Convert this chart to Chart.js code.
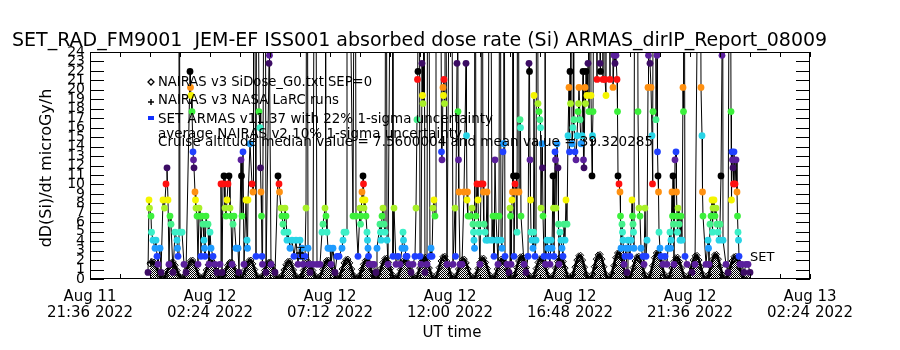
<!DOCTYPE html>
<html><head><meta charset="utf-8">
<script src="https://cdn.jsdelivr.net/npm/chart.js@4.4.1/dist/chart.umd.min.js"></script>
<style>html,body{margin:0;padding:0;background:#fff;}canvas{display:block;}</style>
</head><body>
<canvas id="c" width="900" height="350"></canvas>
<script>
// ---------------- DATA ----------------
// x axis: hours since Aug 11 2022 00:00 UT
const xMajorHours = [21.6, 26.4, 31.2, 36.0, 40.8, 45.6, 50.4];
const xTickLabels = [['Aug 11','21:36 2022'],['Aug 12','02:24 2022'],['Aug 12','07:12 2022'],['Aug 12','12:00 2022'],['Aug 12','16:48 2022'],['Aug 12','21:36 2022'],['Aug 13','02:24 2022']];
const xMinorHours = [21.6,22.8,24.0,25.2,26.4,27.6,28.8,30.0,31.2,32.4,33.6,34.8,36.0,37.2,38.4,39.6,40.8,42.0,43.2,44.4,45.6,46.8,48.0,49.2,50.4];
const yTickValues = [0,1,2,3,4,5,6,7,8,9,10,11,12,13,14,15,16,17,18,19,20,21,22,23,24];

// SET ARMAS measured dose rate: [hour, microGy/h]
const setSamples = [
[23.92,0.7],[23.96,8.35],[23.98,7.5],[24.04,6.65],[24.06,4.95],[24.12,4.1],[24.2,3.25],[24.24,4.1],[24.28,2.4],[24.32,1.55],[24.4,3.25],[24.44,0.7],
[24.52,8.35],[24.58,7.5],[24.64,10.05],[24.68,11.75],[24.72,8.35],[24.76,1.55],[24.8,6.65],[24.84,5.8],[24.92,0.7],[25.0,4.95],[25.08,4.1],[25.1,3.25],[25.12,2.4],[25.16,60],[25.2,4.95],[25.28,4.95],[25.36,1.55],[25.44,0.7],
[25.6,21.95],[25.62,20.25],[25.64,19.4],[25.68,17.7],[25.72,13.45],[25.74,12.6],[25.76,11.75],[25.8,9.2],[25.82,8.35],[25.84,7.5],[25.88,6.65],[25.92,1.55],[25.96,7.5],[26.0,6.65],[26.04,2.4],[26.08,6.65],[26.12,5.8],[26.16,4.1],[26.18,3.25],[26.2,2.4],[26.24,6.65],[26.28,5.8],[26.32,5.8],[26.36,1.55],[26.4,4.95],[26.44,3.25],[26.52,2.4],[26.6,1.55],[26.68,0.7],
[26.8,1.55],[26.84,10.05],[26.88,0.7],[26.92,10.05],[26.96,10.9],[27.0,7.5],[27.04,6.65],[27.08,8.35],[27.12,10.05],[27.16,10.9],[27.2,7.5],[27.24,6.65],[27.28,1.55],[27.32,5.8],[27.36,6.65],[27.44,3.25],[27.52,3.25],[27.56,0.7],
[27.64,12.6],[27.66,10.9],[27.68,6.65],[27.72,13.45],[27.76,1.55],[27.84,8.35],[27.88,4.1],[27.9,3.25],[27.92,8.35],[28.0,14.3],[28.08,10.05],[28.12,9.2],[28.14,60],[28.24,2.4],[28.28,60],[28.36,17.7],[28.4,16.0],[28.42,11.75],[28.44,9.2],[28.46,6.65],[28.48,2.4],[28.5,1.55],[28.6,60],[28.64,0.7],
[28.76,22.8],[28.78,23.65],[28.84,1.55],[29.0,0.7],[29.12,10.9],[29.16,10.05],[29.18,9.2],[29.24,7.5],[29.28,6.65],[29.32,5.8],[29.36,4.95],[29.4,7.5],[29.44,6.65],[29.48,4.1],[29.52,4.95],[29.6,3.25],[29.68,4.1],[29.76,2.4],[29.84,4.1],[29.92,1.55],
[30.0,4.1],[30.04,2.4],[30.08,3.25],[30.12,1.55],[30.2,2.4],[30.24,7.5],[30.28,60],[30.32,3.25],[30.36,1.55],[30.4,0.7],
[30.52,1.55],[30.6,60],[30.68,1.55],[30.8,1.55],[30.88,4.95],[30.92,5.8],[31.0,7.5],[31.02,60],[31.04,6.65],[31.08,4.95],[31.12,3.25],[31.2,3.25],[31.24,1.55],[31.32,3.25],[31.4,0.7],[31.48,2.4],[31.56,2.4],
[31.68,3.25],[31.72,4.1],[31.76,4.95],[31.84,4.95],[31.88,60],
[32.12,6.65],[32.2,60],[32.24,6.65],[32.32,2.4],[32.4,7.5],[32.42,5.8],[32.44,6.65],[32.48,9.2],[32.5,8.35],[32.52,10.9],[32.54,10.05],[32.56,7.5],[32.6,8.35],[32.64,6.65],[32.68,4.95],[32.7,4.1],[32.72,3.25],[32.74,2.4],[32.76,1.55],
[32.88,1.55],[32.96,1.55],[33.04,0.7],[33.08,3.25],[33.2,5.8],[33.22,4.95],[33.24,4.1],[33.28,6.65],[33.32,7.5],[33.36,5.8],[33.4,4.95],[33.44,60],[33.48,4.1],[33.52,1.55],
[33.68,60],[33.72,2.4],[33.76,7.5],[33.84,1.55],[33.92,2.4],[34.0,1.55],[34.08,3.25],[34.12,4.95],[34.14,4.1],[34.2,3.25],[34.24,2.4],[34.28,2.4],[34.36,1.55],[34.44,0.7],[34.52,1.55],
[34.6,2.4],[34.64,7.5],[34.68,16.85],[34.7,21.1],[34.72,21.95],[34.76,60],[34.8,2.4],[34.84,1.55],[34.88,22.8],[34.9,19.4],[34.92,18.55],[34.94,60],[35.0,0.7],[35.08,1.55],[35.12,60],[35.2,2.4],[35.24,3.25],[35.28,2.4],[35.32,7.5],[35.36,8.35],[35.4,6.65],[35.44,60],[35.52,60],[35.6,60],[35.66,13.45],[35.68,12.6],[35.72,20.25],[35.74,19.4],[35.76,21.1],[35.78,18.55],[35.8,60],[35.88,1.55],
[36.04,60],[36.12,1.55],[36.2,7.5],[36.22,2.4],[36.28,22.8],[36.3,60],[36.32,17.7],[36.34,12.6],[36.36,9.2],[36.4,1.55],[36.48,1.55],[36.56,9.2],[36.64,22.8],[36.66,15.15],[36.68,8.35],[36.7,9.2],[36.72,6.65],[36.8,6.65],[36.88,7.5],[36.92,5.8],[36.94,4.95],[36.96,4.1],[36.98,3.25],[37.0,60],[37.04,6.65],[37.08,10.05],[37.12,8.35],[37.14,5.8],[37.16,4.95],[37.2,1.55],[37.24,10.05],[37.28,60],[37.32,10.05],[37.34,9.2],[37.36,5.8],[37.4,4.95],[37.44,4.1],[37.48,9.2],[37.52,4.1],[37.6,60],[37.68,4.1],
[37.72,6.65],[37.76,2.4],[37.8,12.6],[37.84,6.65],[37.88,4.1],[37.92,1.55],[37.96,6.65],[38.0,60],[38.04,4.1],[38.08,3.25],[38.12,13.45],[38.14,14.3],[38.16,60],[38.2,2.4],
[38.28,1.55],[38.36,0.7],[38.4,7.5],[38.42,6.65],[38.44,1.55],[38.48,8.35],[38.5,9.2],[38.52,60],[38.54,10.9],[38.56,2.4],[38.6,10.05],[38.64,9.2],[38.66,10.9],[38.68,4.95],[38.72,60],[38.76,9.2],[38.8,16.85],[38.82,16.0],[38.84,6.65],
[38.96,1.55],[39.04,0.7],[39.12,2.4],[39.16,22.8],[39.18,21.95],[39.2,12.6],[39.22,8.35],[39.24,4.95],[39.28,4.1],[39.32,3.25],[39.34,4.95],[39.36,19.4],[39.4,2.4],[39.44,4.1],[39.48,60],[39.52,18.55],[39.56,17.7],[39.6,16.85],[39.62,16.0],[39.64,7.5],[39.68,14.3],[39.7,11.75],[39.72,6.65],[39.76,2.4],[39.8,60],[39.82,1.55],
[39.88,4.1],[39.92,3.25],[39.96,2.4],[40.0,1.55],[40.04,4.1],[40.08,3.25],[40.12,10.9],[40.14,7.5],[40.16,2.4],[40.2,13.45],[40.22,12.6],[40.24,7.5],[40.28,14.3],[40.32,11.75],[40.34,5.8],[40.36,1.55],[40.4,4.95],[40.44,4.1],[40.48,3.25],[40.52,2.4],[40.56,5.8],[40.6,4.1],[40.64,8.35],[40.68,5.8],
[40.72,15.15],[40.76,20.25],[40.78,13.45],[40.8,21.95],[40.82,18.55],[40.84,60],[40.88,14.3],[40.92,16.0],[40.94,60],[40.96,16.85],[41.0,13.45],[41.04,12.6],[41.08,15.15],[41.12,17.7],[41.14,18.55],[41.16,20.25],[41.2,16.85],[41.24,14.3],[41.28,15.15],[41.32,21.95],[41.34,12.6],[41.36,11.75],[41.4,20.25],[41.42,18.55],[41.44,21.95],[41.48,19.4],[41.52,22.8],[41.54,60],[41.56,17.7],[41.6,60],[41.64,19.4],[41.68,10.9],[41.7,15.15],[41.72,17.7],
[41.8,60],[41.88,21.1],[41.92,60],[42.0,22.8],[42.02,21.95],[42.04,60],[42.12,21.1],[42.16,60],[42.2,21.1],[42.24,19.4],[42.28,60],[42.4,21.1],[42.48,60],[42.52,20.25],[42.56,23.65],[42.6,22.8],[42.64,23.65],[42.68,21.1],[42.7,17.7],
[42.72,10.9],[42.76,10.05],[42.8,9.2],[42.82,6.65],[42.84,3.25],[42.88,5.8],[42.9,4.95],[42.92,4.1],[42.96,1.55],[43.0,2.4],[43.04,3.25],[43.08,0.7],[43.12,4.1],[43.16,3.25],[43.2,2.4],[43.24,4.1],[43.28,8.35],[43.3,6.65],[43.32,5.8],[43.34,4.95],[43.36,3.25],[43.4,60],[43.48,60],[43.52,17.7],[43.56,7.5],[43.6,6.65],[43.64,3.25],[43.72,2.4],[43.76,1.55],[43.8,7.5],[43.84,2.4],[43.88,4.1],
[43.92,20.25],[43.94,23.65],[43.96,60],[44.0,22.8],[44.04,20.25],[44.08,15.15],[44.1,10.05],[44.12,17.7],[44.16,60],[44.24,16.85],[44.28,23.65],[44.3,13.45],[44.32,10.9],[44.34,9.2],[44.36,4.95],[44.4,3.25],[44.44,2.4],[44.52,1.55],
[44.6,2.4],[44.68,1.55],[44.72,3.25],[44.8,4.95],[44.82,3.25],[44.84,4.1],[44.88,9.2],[44.9,6.65],[44.92,10.9],[44.94,5.8],[44.96,1.55],[45.0,12.6],[45.04,13.45],[45.06,9.2],[45.08,6.65],[45.1,4.95],[45.12,7.5],[45.16,5.8],[45.2,4.1],[45.24,6.65],[45.28,4.1],[45.32,20.25],[45.34,17.7],[45.36,60],[45.4,2.4],[45.48,1.55],
[45.68,0.7],[45.8,1.55],[46.0,60],[46.04,20.25],[46.08,15.15],[46.1,9.2],[46.12,6.65],[46.24,1.55],[46.32,4.1],[46.34,3.25],[46.36,1.55],[46.4,5.8],[46.44,6.65],[46.48,8.35],[46.5,4.95],[46.52,7.5],[46.56,8.35],[46.6,6.65],[46.64,7.5],[46.68,5.8],[46.72,4.95],[46.76,4.1],[46.8,5.8],[46.84,10.9],[46.88,23.65],[46.9,60],[46.92,4.1],
[47.04,1.55],[47.12,0.7],[47.2,60],[47.24,17.7],[47.26,8.35],[47.28,13.45],[47.3,12.6],[47.32,11.75],[47.34,10.05],[47.36,13.45],[47.4,10.05],[47.44,12.6],[47.48,9.2],[47.5,6.65],[47.52,4.95],[47.54,4.1],[47.56,2.4],[47.6,1.55],[47.68,1.55],[47.76,0.7],[47.84,1.55],[47.92,1.55],[48.0,0.7]
];

// NAIRAS v3 SiDose model, sampled on a regular grid
const NAIRAS_START = 24.0;
const NAIRAS_STEP = 0.0776;
const nairasDose = [
1.6,1.85,1.8,1.45,0.9,0.4,0.05,
0.05,0.4,0.9,1.4,1.75,1.8,1.45,0.9,0.35,0.05,
0.05,0.4,1.0,1.6,1.95,2.0,1.6,1.0,0.4,0.05,
0.05,0.4,0.95,1.5,1.85,1.9,1.5,0.95,0.4,0.05,
0.05,0.35,0.9,1.45,1.75,1.8,1.4,0.9,0.4,0.05,
0.05,0.4,1.0,1.6,1.95,2.0,1.6,1.0,0.4,0.05,
0.05,0.4,0.9,1.4,1.75,1.8,1.45,0.9,0.35,0.05,
0.05,0.4,0.95,1.5,1.85,1.9,1.5,0.95,0.4,0.05,
0.05,0.35,0.9,1.45,1.8,1.75,1.4,0.9,0.4,0.05,
0.05,0.4,1.0,1.6,1.95,2.0,1.6,1.0,0.4,0.05,
0.05,0.4,1.05,1.7,2.05,2.1,1.7,1.05,0.4,0.05,
0.05,0.4,1.0,1.55,1.95,2.0,1.65,1.0,0.4,0.05,
0.05,0.45,1.1,1.75,2.15,2.2,1.75,1.1,0.45,0.05,
0.05,0.4,1.0,1.6,2.0,1.95,1.6,1.0,0.4,0.05,
0.05,0.45,1.15,1.85,2.25,2.3,1.85,1.15,0.45,0.05,
0.05,0.5,1.2,1.9,2.35,2.4,1.9,1.2,0.5,0.05,
0.05,0.4,1.05,1.7,2.05,2.1,1.7,1.05,0.4,0.05,
0.05,0.45,1.1,1.75,2.15,2.2,1.75,1.1,0.45,0.05,
0.05,0.4,1.05,1.65,2.1,2.05,1.7,1.05,0.4,0.05,
0.05,0.5,1.2,1.9,2.35,2.4,1.9,1.2,0.5,0.05,
0.05,0.45,1.1,1.75,2.15,2.2,1.75,1.1,0.45,0.05,
0.05,0.45,1.15,1.85,2.25,2.3,1.85,1.15,0.45,0.05,
0.05,0.5,1.25,2.0,2.45,2.5,2.0,1.25,0.5,0.05,
0.05,0.5,1.3,2.1,2.55,2.6,2.1,1.3,0.5,0.05,
0.05,0.55,1.4,2.25,2.75,2.8,2.25,1.4,0.55,0.05,
0.05,0.5,1.2,1.9,2.35,2.4,1.9,1.2,0.5,0.05,
0.05,0.55,1.4,2.25,2.75,2.8,2.25,1.4,0.55,0.05,
0.05,0.45,1.15,1.85,2.25,2.3,1.85,1.15,0.45,0.05,
0.05,0.5,1.25,2.0,2.45,2.5,2.0,1.25,0.5,0.05,
0.05,0.5,1.3,2.1,2.55,2.6,2.1,1.3,0.5,0.05,
0.05,0.5,1.2,1.9,2.35,2.4,1.9,1.2,0.5,0.05,
0.05,0.05
];

// NAIRAS v3 NASA LaRC runs
const larcHours = [24.04, 30.0];
const larcDose = [1.75, 2.75];
const larcErr = [0, 0.6];

const legendLines = [
  'NAIRAS v3 SiDose_G0.txt SEP=0',
  'NAIRAS v3 NASA LaRC runs',
  'SET ARMAS v11.37 with 22% 1-sigma uncertainty',
  'average NAIRAS v2 10% 1-sigma uncertainty',
  'Cruise altitude median value = 7.5600004 and mean value = 39.320285'
];
const titleText = 'SET_RAD_FM9001  JEM-EF ISS001 absorbed dose rate (Si) ARMAS_dirIP_Report_08009';

// ---------------- STYLE ----------------
const FONT = 'DejaVu Sans';
const levelPalette = ['#3c0c64','#5a1f9c','#2040ff','#1e9bff','#28d4e6','#3cf0c8','#44f08c','#3cf03c','#a8f028','#f5f500','#ff9010','#ff1010','#000000'];
function levelColor(v){
  const k = Math.round((v - 0.7) / 0.85);
  return levelPalette[((k % 13) + 13) % 13];
}

// checkered fill pattern for the NAIRAS arches
function checkerPattern(){
  const c = document.createElement('canvas');
  c.width = 2; c.height = 2;
  const g = c.getContext('2d');
  g.fillStyle = '#000';
  g.fillRect(0, 0, 1, 1); g.fillRect(1, 1, 1, 1);
  return g.createPattern(c, 'repeat');
}

const setData = setSamples.map(p => ({x: p[0], y: p[1]}));
const nairasData = nairasDose.map((v, i) => ({x: NAIRAS_START + i * NAIRAS_STEP, y: v}));
const larcData = larcHours.map((h, i) => ({x: h, y: larcDose[i]}));

const decor = {
  id: 'decor',
  afterDraw(chart){
    const {ctx, chartArea: a, scales: {x, y}} = chart;
    ctx.save();
    ctx.strokeStyle = '#000'; ctx.fillStyle = '#000'; ctx.lineWidth = 1;
    const line = (x1,y1,x2,y2) => { ctx.beginPath(); ctx.moveTo(x1,y1); ctx.lineTo(x2,y2); ctx.stroke(); };
    // error bars for LaRC runs
    larcHours.forEach((h, i) => {
      if (!larcErr[i]) return;
      const px = Math.round(x.getPixelForValue(h)) + 0.5;
      const lo = y.getPixelForValue(larcDose[i] - larcErr[i]);
      const hi = y.getPixelForValue(larcDose[i] + larcErr[i]);
      line(px, lo, px, hi); line(px-4, lo, px+4, lo); line(px-4, hi, px+4, hi);
    });
    // frame
    ctx.strokeRect(a.left + 0.5, a.top + 0.5, a.right - a.left - 1, a.bottom - a.top - 1);
    // y ticks (both sides, inward)
    yTickValues.forEach(v => {
      const py = Math.round(y.getPixelForValue(v)) + 0.5;
      line(a.left, py, a.left + 14, py);
      line(a.right - 14, py, a.right, py);
    });
    // x ticks (top and bottom, inward)
    xMinorHours.forEach(h => {
      const px = Math.round(x.getPixelForValue(h)) + 0.5;
      line(px, a.bottom, px, a.bottom - 5);
      line(px, a.top, px, a.top + 5);
    });
    // title
    ctx.textBaseline = 'alphabetic';
    ctx.textAlign = 'left';
    ctx.font = '19px "' + FONT + '"';
    ctx.fillText(titleText, 12, 46, 876);
    // axis titles
    ctx.textAlign = 'center';
    ctx.font = '15px "' + FONT + '"';
    ctx.fillText('UT time', 452, 337);
    ctx.save();
    ctx.translate(51, 168);
    ctx.rotate(-Math.PI / 2);
    ctx.font = '16px "' + FONT + '"';
    ctx.fillText('dD(Si)/dt microGy/h', 0, 0, 163);
    ctx.restore();
    // legend
    ctx.textAlign = 'left';
    ctx.font = '14px "' + FONT + '"';
    const lx = 158;
    ctx.fillText(legendLines[0], lx, 86, 214);
    ctx.fillText(legendLines[1], lx, 104, 181);
    ctx.fillText(legendLines[2], lx, 123, 335);
    ctx.fillText(legendLines[3], lx, 138, 304);
    ctx.fillText(legendLines[4], lx, 146, 495);
    // legend symbols
    ctx.beginPath();
    ctx.moveTo(151, 79); ctx.lineTo(154, 82); ctx.lineTo(151, 85); ctx.lineTo(148, 82); ctx.closePath();
    ctx.lineWidth = 1.3; ctx.stroke();
    ctx.lineWidth = 1.5;
    line(148, 102, 154, 102); line(151, 99, 151, 105);
    ctx.fillStyle = '#1030ff';
    ctx.fillRect(148, 116, 6, 4);
    ctx.fillStyle = '#000';
    // SET label
    ctx.font = '13px "' + FONT + '"';
    ctx.fillText('SET', 750, 261);
    ctx.restore();
  }
};

new Chart(document.getElementById('c'), {
  type: 'line',
  data: {
    datasets: [
      { label: 'SET line', data: setData, parsing: false, borderColor: '#000', borderWidth: 1,
        pointRadius: 0, fill: false, order: 4, clip: 0, tension: 0 },
      { label: 'NAIRAS SiDose', data: nairasData, parsing: false, showLine: true,
        borderColor: '#000', borderWidth: 2.5, fill: 'origin', backgroundColor: checkerPattern(),
        pointStyle: 'rectRot', pointRadius: 3, pointBorderColor: '#000',
        pointBackgroundColor: 'rgba(0,0,0,0)', pointBorderWidth: 1, order: 3, clip: 0 },
      { label: 'SET ARMAS', data: setData, parsing: false, showLine: false,
        pointStyle: 'circle', pointRadius: 3.4, pointBorderWidth: 0,
        pointBackgroundColor: c => levelColor(c.raw ? c.raw.y : 0), order: 2, clip: 0 },
      { label: 'LaRC', data: larcData, parsing: false, showLine: false,
        pointStyle: 'cross', pointRadius: 4, pointBorderColor: '#000', pointBorderWidth: 1.5, order: 1, clip: 0 }
    ]
  },
  options: {
    responsive: false,
    devicePixelRatio: 1,
    animation: false,
    events: [],
    layout: { padding: { left: 0, right: 90, top: 52, bottom: 0 } },
    plugins: { legend: { display: false }, tooltip: { enabled: false }, title: { display: false }, filler: { propagate: false } },
    scales: {
      x: {
        type: 'linear', min: 21.6, max: 50.4, position: 'bottom',
        grid: { display: false, drawTicks: false },
        border: { display: false },
        afterBuildTicks: s => { s.ticks = xMajorHours.map(v => ({ value: v })); },
        afterFit: s => { s.height = 71; },
        ticks: {
          autoSkip: false, maxRotation: 0, minRotation: 0, padding: 10, color: '#000',
          font: { family: FONT, size: 15, lineHeight: 1.07 },
          callback: (v, i) => xTickLabels[i]
        }
      },
      y: {
        type: 'linear', min: 0, max: 24,
        grid: { display: false, drawTicks: false },
        border: { display: false },
        afterBuildTicks: s => { s.ticks = yTickValues.map(v => ({ value: v })); },
        afterFit: s => { s.width = 90; },
        ticks: { autoSkip: false, padding: 5, color: '#000', font: { family: FONT, size: 14 } }
      }
    }
  },
  plugins: [decor]
});
</script>
</body></html>
